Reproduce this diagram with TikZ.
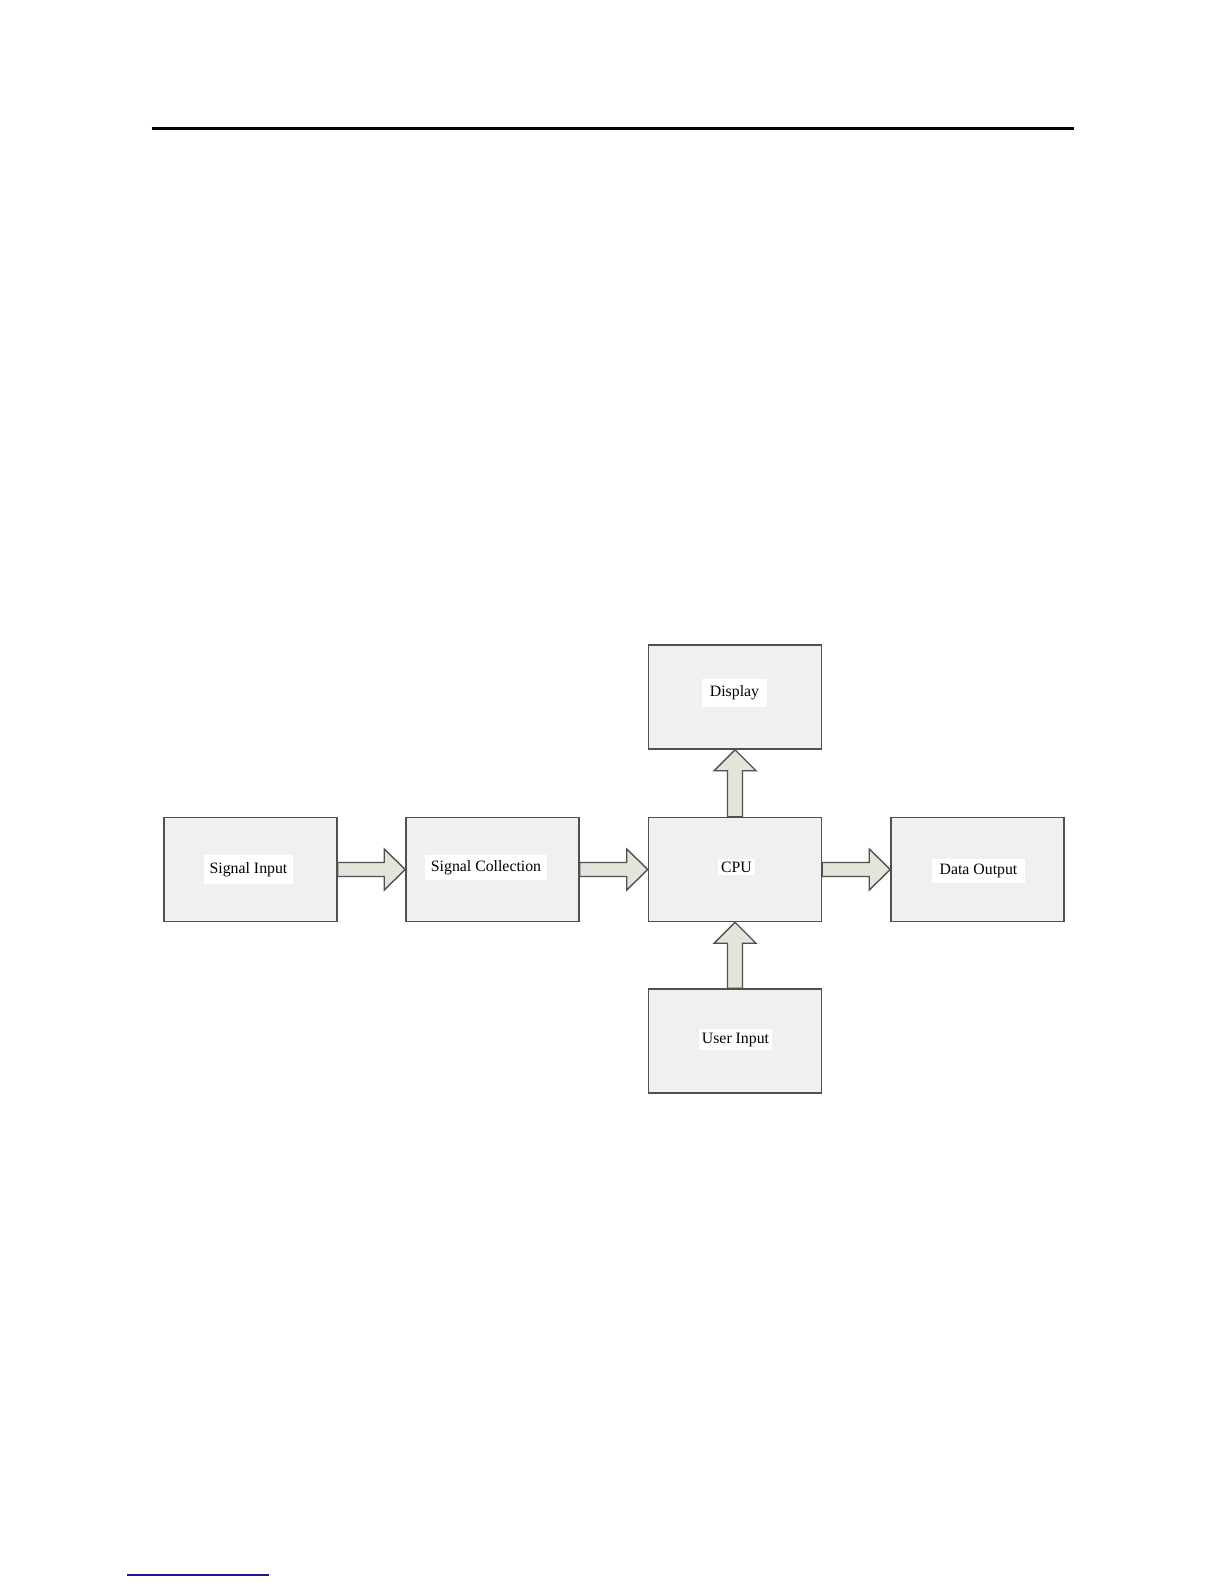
\documentclass[tikz,border=0pt]{standalone}
\usepackage{fontspec}
\setmainfont{Liberation Serif}
\usetikzlibrary{calc}
\definecolor{boxfill}{HTML}{F0F0F0}
\definecolor{boxline}{HTML}{505050}
\definecolor{arrfill}{HTML}{E3E4DA}
\definecolor{navyline}{HTML}{1A1A8C}
\tikzset{
  box/.style={draw=boxline, line width=0.75pt, fill=boxfill, minimum width=86.5pt, minimum height=52pt, inner sep=0pt},
  lbl/.style={fill=white, inner xsep=3pt, inner ysep=0pt, minimum height=14pt, font=\fontsize{7.9}{9}\selectfont},
  blockarrow/.style={draw=boxline, line width=0.7pt, fill=arrfill, line join=miter}
}
\newcommand{\myharrow}[2]{%
  \draw[blockarrow] ($(#1.east)+(0,-7)$) -- ($(#2.west)+(-21,-7)$) -- ($(#2.west)+(-21,-20.5)$) -- (#2.west) -- ($(#2.west)+(-21,20.5)$) -- ($(#2.west)+(-21,7)$) -- ($(#1.east)+(0,7)$) -- cycle;}
\newcommand{\myvarrow}[2]{%
  \draw[blockarrow] ($(#1.north)+(-7.5,0)$) -- ($(#2.south)+(-7.5,21)$) -- ($(#2.south)+(-21,21)$) -- (#2.south) -- ($(#2.south)+(21,21)$) -- ($(#2.south)+(7.5,21)$) -- ($(#1.north)+(7.5,0)$) -- cycle;}
\begin{document}
\begin{tikzpicture}[x=0.5pt,y=-0.5pt]
\useasboundingbox (0,0) rectangle (1224,1584);
% top rule and bottom footnote rule
\coordinate (tl) at (151.5,128.5);
\coordinate (tr) at (1073.5,128.5);
\draw[line width=1.6pt] (tl) -- (tr);
\coordinate (bl) at (127,1575);
\coordinate (br) at (269,1575);
\draw[navyline, line width=0.6pt] (bl) -- (br);
% boxes
\node[box] (si) at (250.5,869.5) {};
\node[box] (sc) at (492.5,869.5) {};
\node[box] (cpu) at (735,869.5) {};
\node[box] (dout) at (977.5,869.5) {};
\node[box] (disp) at (735,697) {};
\node[box] (ui) at (735,1041) {};
% labels
\node[lbl, minimum height=14.5pt] (lsi) at (248.5,869.5) {Signal Input};
\node[lbl, minimum height=12.5pt] (lsc) at (486,867.5) {Signal Collection};
\node[lbl, minimum height=8pt, inner xsep=1.5pt] (lcpu) at (736.5,867) {CPU};
\node[lbl, minimum height=12pt, inner xsep=4pt] (ldout) at (978.5,871) {Data Output};
\node[lbl, minimum height=14pt, inner xsep=4pt] (ldisp) at (734.5,693) {Display};
\node[lbl, minimum height=10.5pt, inner xsep=1.5pt] (lui) at (735.5,1039.5) {User Input};
% arrows
\myharrow{si}{sc}
\myharrow{sc}{cpu}
\myharrow{cpu}{dout}
\myvarrow{cpu}{disp}
\myvarrow{ui}{cpu}
\end{tikzpicture}
\end{document}
